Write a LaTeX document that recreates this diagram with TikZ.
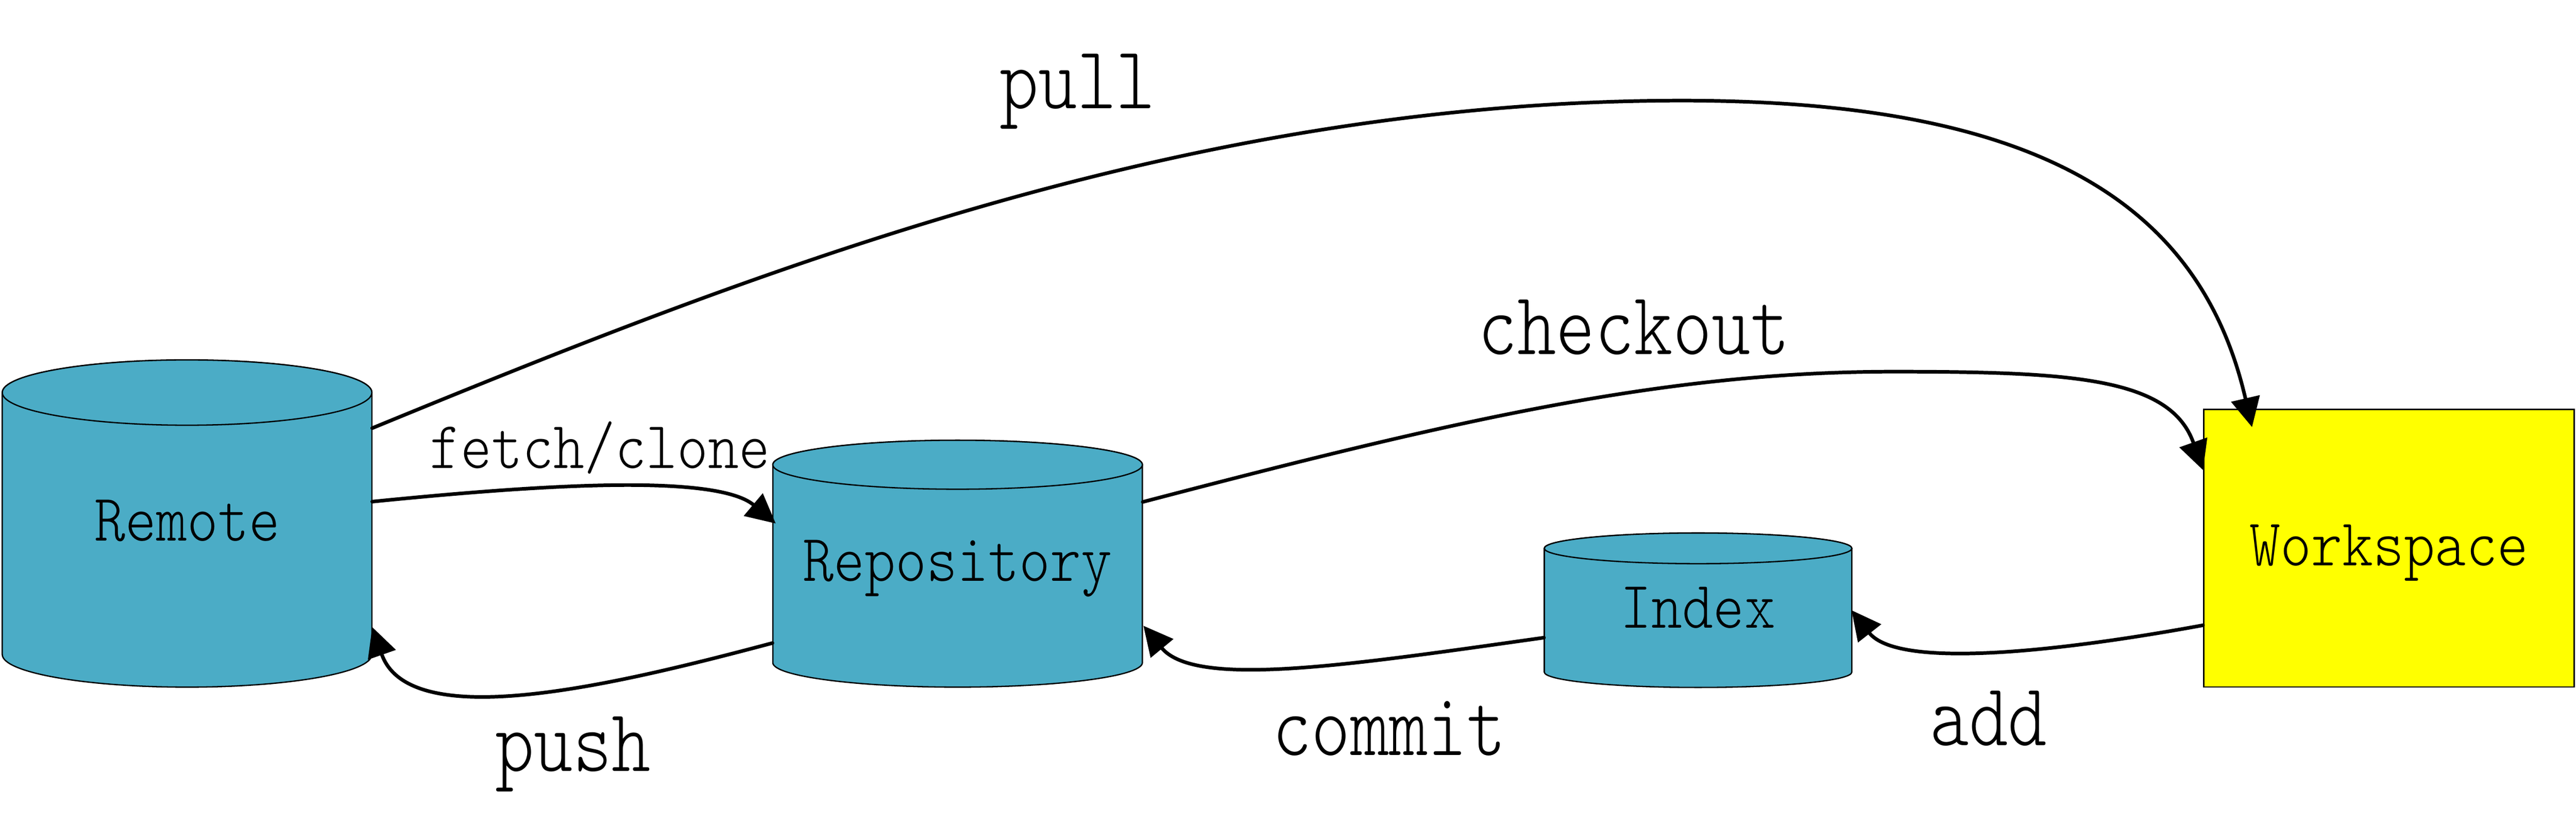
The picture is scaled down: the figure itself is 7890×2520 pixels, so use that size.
\documentclass[tikz,border=0pt]{standalone}
\usepackage{fontspec}
\usetikzlibrary{arrows.meta,calc}
\newfontfamily\nodefont{lmmonolt10-regular.otf}[FakeStretch=0.88]
\newfontfamily\edgefont{lmmonolt10-regular.otf}[FakeStretch=0.83]
\definecolor{cylblue}{RGB}{75,172,198}
\newcommand\dbcyl[5]{%
  \filldraw[cylst] (#1-#2,#3) -- (#1-#2,#4)
    arc[start angle=180,end angle=360,x radius=#2*0.01cm,y radius=#5*0.01cm]
    -- (#1+#2,#3)
    arc[start angle=0,end angle=180,x radius=#2*0.01cm,y radius=#5*0.01cm] -- cycle;
  \filldraw[cylst] (#1,#3) ellipse[x radius=#2*0.01cm,y radius=#5*0.01cm];}
\tikzset{
  cylst/.style={fill=cylblue,draw=black,line width=0.04cm},
  box/.style={inner sep=0pt,font=\nodefont\fontsize{58.3}{60}\selectfont,
    text height=1.25cm,text depth=0.18cm},
  wsbox/.style={box,draw=black,fill={rgb,255:red,255;green,255;blue,0},line width=0.04cm},
  biglbl/.style={inner sep=0pt,anchor=base,font=\edgefont\fontsize{77.7}{80}\selectfont},
  smalllbl/.style={inner sep=0pt,anchor=base,font=\nodefont\fontsize{58.3}{60}\selectfont},
  edge/.style={line width=0.11cm,line cap=round,
    -{Triangle[length=0.9cm,width=0.88cm]}}
}
\begin{document}
\begin{tikzpicture}[x=0.01cm,y=-0.01cm]
\path[use as bounding box] (0,0) rectangle (7890,2520);
% cylinder bodies
\dbcyl{573}{566}{1202}{2004}{100}
\dbcyl{2933}{566}{1423}{2029}{75}
\dbcyl{5201}{471}{1679}{2058}{47}
% nodes
\node[box,minimum width=11.32cm,minimum height=10.02cm] (remote) at (573,1603) {Remote};
\node[box,minimum width=11.32cm,minimum height=7.56cm] (repo) at (2933,1726) {Repository};
\node[box,minimum width=9.42cm,minimum height=4.73cm] (index) at (5201,1868.5) {Index};
\node[wsbox,minimum width=11.34cm,minimum height=8.49cm] (ws) at (7317,1678.5) {Workspace};
% connectors
\draw[edge] ($(remote.east)+(0,-292)$) .. controls (2342,817) and (3652,308) .. (5152,308)
  .. controls (6252,308) and (6741,628) .. ($(ws.north west)+(150,56)$);
\draw[edge] ($(repo.east)+(0,-189)$) .. controls (4467,1284) and (5100,1138) .. (5800,1138)
  .. controls (6350,1138) and (6648,1157) .. ($(ws.west)+(0,-239)$);
\draw[edge] ($(remote.east)+(0,-67)$) .. controls (1600,1490) and (2188,1445) .. ($(repo.west)+(10,-123)$);
\draw[edge] ($(repo.west)+(0,243)$) .. controls (1884,2097) and (1255,2249) .. ($(remote.east)+(0,317)$);
\draw[edge] ($(index.west)+(0,84)$) .. controls (4135,2036) and (3661,2109) .. ($(repo.east)+(2,190)$);
\draw[edge] ($(ws.west)+(0,236)$) .. controls (6309,1995) and (5813,2050) .. ($(index.east)+(-2,0)$);
% labels
\node[biglbl] (lpull) at (3300,332) {pull};
\node[biglbl] (lcheckout) at (5005,1085) {checkout};
\node[smalllbl] (lfetch) at (1837,1433) {fetch/clone};
\node[biglbl] (lpush) at (1755,2362) {push};
\node[biglbl] (lcommit) at (4255,2312) {commit};
\node[biglbl] (ladd) at (6091,2283) {add};
\end{tikzpicture}
\end{document}
